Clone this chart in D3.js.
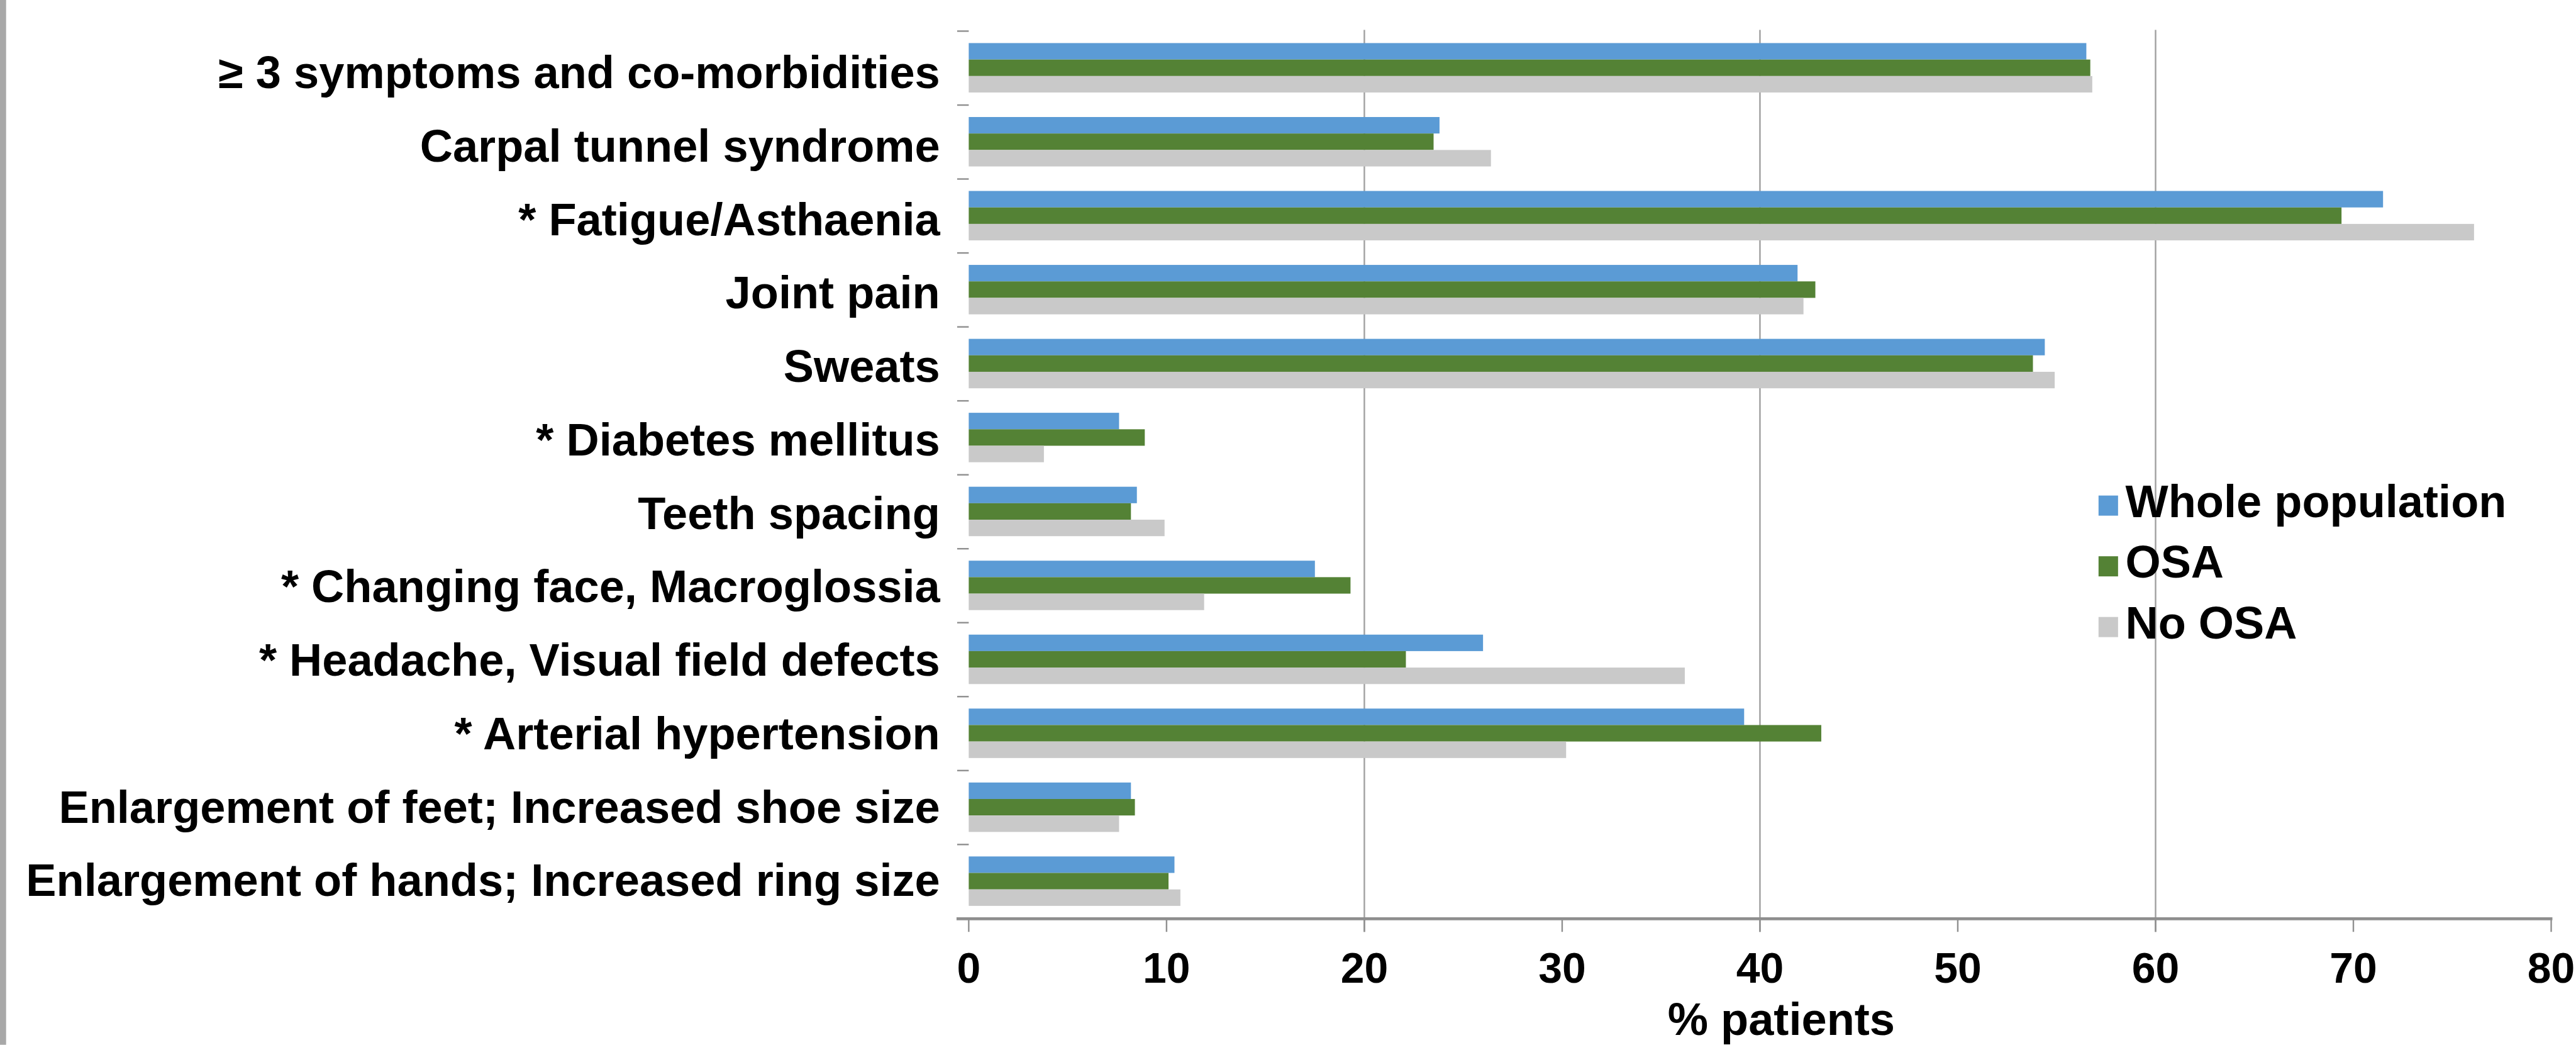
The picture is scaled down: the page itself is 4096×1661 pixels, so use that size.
<!DOCTYPE html>
<html>
<head>
<meta charset="utf-8">
<script src="https://cdn.jsdelivr.net/npm/d3@7"></script>
<style>
  html, body { margin: 0; padding: 0; background: #ffffff; }
  svg { display: block; }
  text { font-family: "Liberation Sans", Arial, sans-serif; font-weight: bold; fill: #000; }
</style>
</head>
<body>
<svg id="chart" width="4096" height="1661"></svg>
<script>
const categories = [
  "\u2265 3 symptoms and co-morbidities",
  "Carpal tunnel syndrome",
  "* Fatigue/Asthaenia",
  "Joint pain",
  "Sweats",
  "* Diabetes mellitus",
  "Teeth spacing",
  "* Changing face, Macroglossia",
  "* Headache, Visual field defects",
  "* Arterial hypertension",
  "Enlargement of feet; Increased shoe size",
  "Enlargement of hands; Increased ring size"
];
const wholePopulation = [56.5, 23.8, 71.5, 41.9, 54.4, 7.6, 8.5, 17.5, 26.0, 39.2, 8.2, 10.4];
const osa             = [56.7, 23.5, 69.4, 42.8, 53.8, 8.9, 8.2, 19.3, 22.1, 43.1, 8.4, 10.1];
const noOsa           = [56.8, 26.4, 76.1, 42.2, 54.9, 3.8, 9.9, 11.9, 36.2, 30.2, 7.6, 10.7];
const seriesNames = ["Whole population", "OSA", "No OSA"];
const seriesColors = ["#5B9BD5", "#548235", "#C9C9C9"];
const xTicks = [0, 10, 20, 30, 40, 50, 60, 70, 80];
const gridTicks = [20, 40, 60];
const xTitle = "% patients";

const seriesValues = [wholePopulation, osa, noOsa];

const svg = d3.select("#chart");
const root = svg.append("g").attr("transform", "scale(0.97)");

// left border strip
root.append("rect").attr("x", 0).attr("y", 0).attr("width", 10).attr("height", 1712).attr("fill", "#A8A8A8");

const x = d3.scaleLinear().domain([0, 80]).range([1588, 4182]);
const y = d3.scaleBand().domain(categories).range([51, 1505]).padding(0);
const groupH = 81;
const ySub = d3.scaleBand().domain(seriesNames)
  .range([(y.bandwidth() - groupH) / 2 - 0.5, (y.bandwidth() + groupH) / 2 - 0.5]).padding(0);
const yLabel = d3.scaleBand().domain(categories).range([58, 1502]).padding(0);

// gridlines
root.append("g").selectAll("line").data(gridTicks).join("line")
  .attr("x1", d => x(d)).attr("x2", d => x(d))
  .attr("y1", 49).attr("y2", 1527)
  .attr("stroke", "#A0A0A0").attr("stroke-width", 2.5);

// bars
const rows = root.append("g").selectAll("g").data(categories).join("g")
  .attr("transform", d => `translate(0,${y(d)})`);
rows.selectAll("rect").data((d, i) => seriesNames.map((s, k) => ({s, k, v: seriesValues[k][i]})))
  .join("rect")
  .attr("x", x(0))
  .attr("y", d => ySub(d.s))
  .attr("width", d => x(d.v) - x(0))
  .attr("height", ySub.bandwidth())
  .attr("fill", d => seriesColors[d.k]);

// y ticks at band boundaries
const boundaries = categories.map(c => y(c)).concat([y.range()[1]]);
root.append("g").selectAll("line").data(boundaries).join("line")
  .attr("x1", 1569).attr("x2", 1588)
  .attr("y1", d => d).attr("y2", d => d)
  .attr("stroke", "#909090").attr("stroke-width", 2.5);

// category labels
root.append("g").selectAll("text").data(categories).join("text")
  .attr("x", 1541)
  .attr("y", d => yLabel(d) + yLabel.bandwidth() / 2 + 26.5)
  .attr("text-anchor", "end")
  .attr("font-size", 74.5)
  .text(d => d);

// x axis line
root.append("line").attr("x1", 1568).attr("x2", 4184).attr("y1", 1505.5).attr("y2", 1505.5)
  .attr("stroke", "#8E8E8E").attr("stroke-width", 5);

// x ticks
root.append("g").selectAll("line").data(xTicks).join("line")
  .attr("x1", d => x(d)).attr("x2", d => x(d))
  .attr("y1", 1506).attr("y2", 1527)
  .attr("stroke", "#909090").attr("stroke-width", 2.5);

// x tick labels
root.append("g").selectAll("text").data(xTicks).join("text")
  .attr("x", d => x(d)).attr("y", 1610)
  .attr("text-anchor", "middle")
  .attr("font-size", 70)
  .text(d => d);

// axis title
root.append("text").attr("x", 2920).attr("y", 1696)
  .attr("text-anchor", "middle").attr("font-size", 74.5).text(xTitle);

// legend
const legend = root.append("g").selectAll("g").data(seriesNames).join("g")
  .attr("transform", (d, i) => `translate(3440,${847 + i * 99.5})`);
legend.append("rect").attr("x", 0).attr("y", -35).attr("width", 32).attr("height", 33)
  .attr("fill", (d, i) => seriesColors[i]);
legend.append("text").attr("x", 44).attr("y", 0).attr("font-size", 74.5).text(d => d);
</script>
</body>
</html>
